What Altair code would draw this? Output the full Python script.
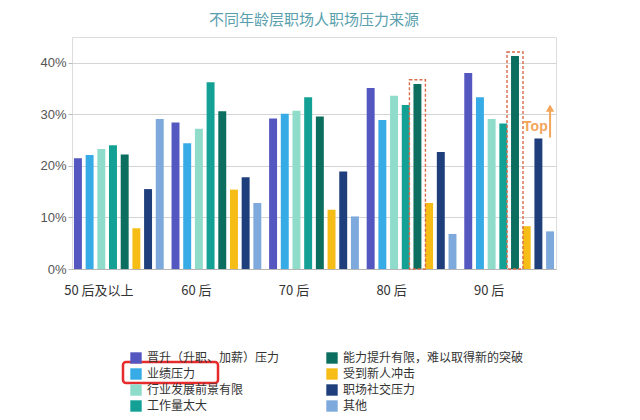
import altair as alt
import pandas as pd

groups = ["50 后及以上", "60 后", "70 后", "80 后", "90 后"]
series = [
    "晋升（升职、加薪）压力",
    "业绩压力",
    "行业发展前景有限",
    "工作量太大",
    "能力提升有限，难以取得新的突破",
    "受到新人冲击",
    "职场社交压力",
    "其他",
]
colors = ["#5457bf", "#36abe6", "#8fdcca", "#14a195", "#0c6e5f", "#f6bd16", "#1e3f7c", "#7ea9dc"]

values = {
    "50 后及以上": [0.215, 0.221, 0.233, 0.240, 0.222, 0.079, 0.155, 0.291],
    "60 后":       [0.284, 0.244, 0.272, 0.362, 0.306, 0.154, 0.178, 0.128],
    "70 后":       [0.292, 0.301, 0.307, 0.333, 0.296, 0.115, 0.189, 0.102],
    "80 后":       [0.351, 0.289, 0.336, 0.318, 0.359, 0.128, 0.227, 0.068],
    "90 后":       [0.380, 0.333, 0.291, 0.282, 0.413, 0.083, 0.253, 0.073],
}

highlight_groups = ["80 后", "90 后"]
highlight_series = "能力提升有限，难以取得新的突破"

top_group = ["90 后"]
top_text_series = ["职场社交压力"]
top_arrow_series = ["其他"]
top_text_y = [0.275]
top_arrow_y1 = [0.255]
top_arrow_y2 = [0.312]

rows = []
for g in groups:
    for s, v in zip(series, values[g]):
        rows.append({"group": g, "series": s, "value": v})
df = pd.DataFrame(rows)

hl = df[(df["group"].isin(highlight_groups)) & (df["series"] == highlight_series)].copy()
hl["top"] = hl["value"] + 0.008

top_df = pd.DataFrame({
    "group": top_group, "ts": top_text_series, "as": top_arrow_series,
    "ty": top_text_y, "y1": top_arrow_y1, "y2": top_arrow_y2, "label": ["Top"],
})

xscale = alt.Scale(domain=groups, paddingInner=0.08, paddingOuter=0.02)
yscale = alt.Scale(domain=[0, 0.45])
offscale = alt.Scale(domain=series, paddingInner=0.32, paddingOuter=0)

bars = alt.Chart(df).mark_bar().encode(
    x=alt.X("group:N", scale=xscale, sort=groups,
            axis=alt.Axis(title=None, labelAngle=0, ticks=False, labelFontSize=13,
                          labelColor="#333333", labelPadding=15, domainColor="#b5b5b5",
                          labelFont="Noto Sans CJK SC", labelOffset=-20)),
    xOffset=alt.XOffset("series:N", scale=offscale, sort=series),
    y=alt.Y("value:Q", scale=yscale,
            axis=alt.Axis(title=None, values=[0, 0.1, 0.2, 0.3, 0.4], format=".0%",
                          labelFontSize=13, labelColor="#555555", labelFont="Liberation Sans",
                          tickSize=4, tickColor="#bbbbbb", domain=False, gridColor="#d4d4d4",
                          labelPadding=2)),
    color=alt.Color("series:N", scale=alt.Scale(domain=series, range=colors),
                    legend=alt.Legend(title=None, orient="none", legendX=58, legendY=315,
                                      columns=2, columnPadding=46, rowPadding=4,
                                      values=series, symbolType="square",
                                      symbolSize=130, symbolStrokeWidth=0, symbolOpacity=1,
                                      labelFontSize=12, labelColor="#333333",
                                      labelFont="Noto Sans CJK SC", labelOffset=5,
                                      labelLimit=300)),
)

boxes = alt.Chart(hl).mark_bar(width=16, fillOpacity=0, stroke="#d96b4a",
                               strokeWidth=1.4, strokeDash=[3, 2]).encode(
    x=alt.X("group:N", scale=xscale, sort=groups),
    xOffset=alt.XOffset("series:N", scale=offscale, sort=series),
    y=alt.Y("top:Q", scale=yscale),
    y2=alt.datum(0),
)

top_text = alt.Chart(top_df).mark_text(color="#f3a55a", fontSize=14, fontWeight="bold",
                                       font="Liberation Sans", dx=-3).encode(
    x=alt.X("group:N", scale=xscale, sort=groups),
    xOffset=alt.XOffset("ts:N", scale=offscale),
    y=alt.Y("ty:Q", scale=yscale),
    text="label:N",
)

arrow = alt.Chart(top_df).mark_rule(color="#f3a55a", strokeWidth=2).encode(
    x=alt.X("group:N", scale=xscale, sort=groups),
    xOffset=alt.XOffset("as:N", scale=offscale),
    y=alt.Y("y1:Q", scale=yscale),
    y2="y2:Q",
)

arrow_head = alt.Chart(top_df).mark_point(shape="triangle-up", filled=True, size=70,
                                          color="#f3a55a", opacity=1).encode(
    x=alt.X("group:N", scale=xscale, sort=groups),
    xOffset=alt.XOffset("as:N", scale=offscale),
    y=alt.Y("y2:Q", scale=yscale),
)

red_box = alt.Chart(pd.DataFrame({"k": [0]})).mark_rect(
    fillOpacity=0, stroke="#e52b2b", strokeWidth=2.5, cornerRadius=3).encode(
    x=alt.value(51), x2=alt.value(146), y=alt.value(325), y2=alt.value(346),
)

chart = alt.layer(bars, boxes, top_text, arrow, arrow_head, red_box).properties(
    width=484, height=232,
    title=alt.TitleParams("不同年龄层职场人职场压力来源", fontSize=15, fontWeight="normal",
                          color="#5a9fae", font="Noto Sans CJK SC", offset=9, anchor="middle"),
    padding={"left": 64, "top": 29, "right": 76, "bottom": 143},
    autosize=alt.AutoSizeParams(type="none"),
).configure_view(stroke=None).configure(font="Noto Sans CJK SC")

chart.save("out.html", embed_options={"renderer": "svg", "actions": False})
